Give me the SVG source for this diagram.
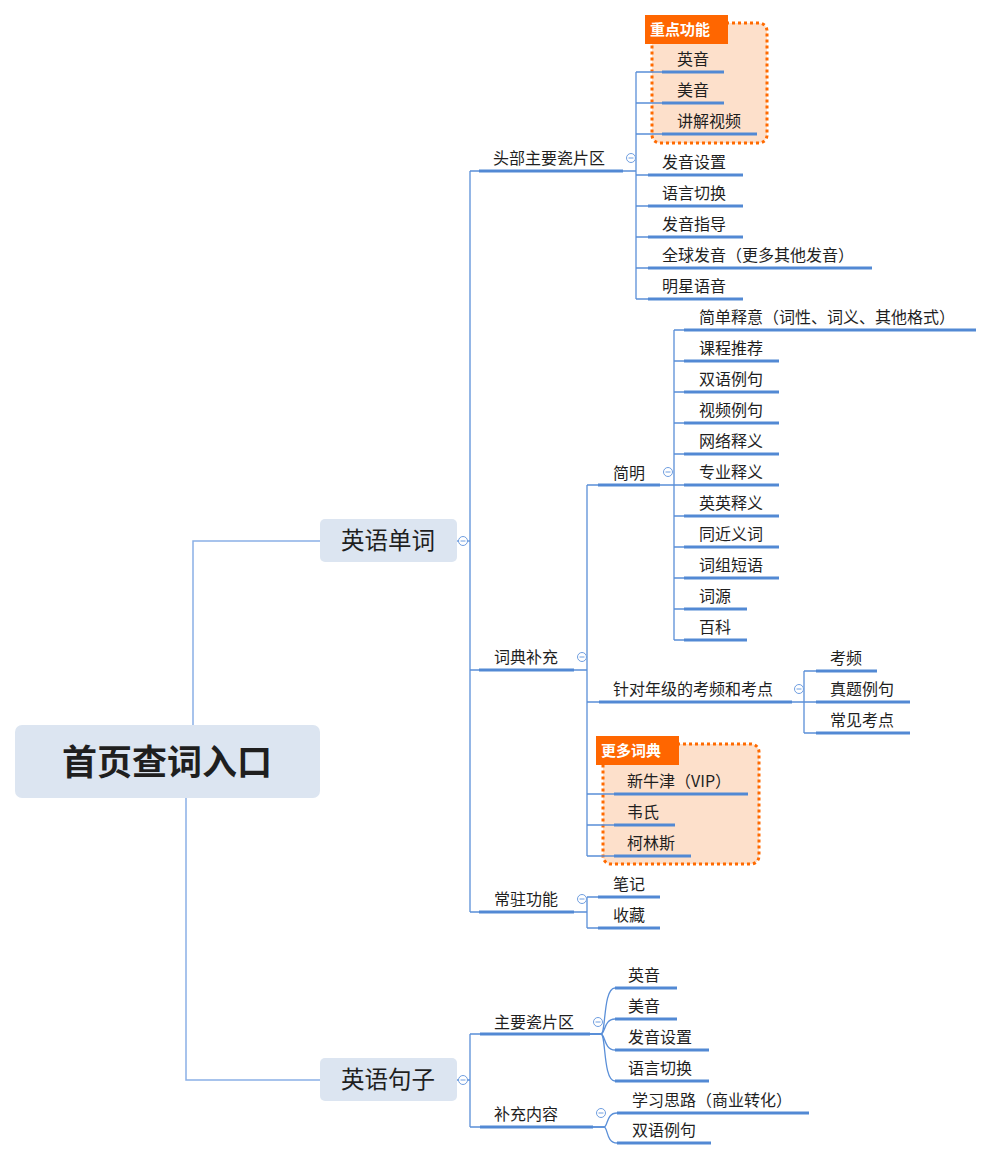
<svg xmlns="http://www.w3.org/2000/svg" width="993" height="1160" viewBox="0 0 993 1160">
<style>
text{font-family:"Noto Sans CJK SC","Noto Sans",sans-serif;fill:#1f1f1f}
.t{font-size:16px}
.l2{font-size:23.5px;text-anchor:middle}
.root{font-size:35px;font-weight:bold;text-anchor:middle}
.ul{stroke:#5289d4;stroke-width:3;fill:none}
.c{stroke:#5a8fd8;stroke-width:1.3;fill:none}
.rc{stroke:#8ab0e6;stroke-width:1.5;fill:none}
.nb{fill:#dce5f1}
.grp{fill:#fde0cb;stroke:#ff6a00;stroke-width:3;stroke-dasharray:3 3}
.lab{fill:#ff6600}
.labt{font-size:15px;fill:#ffffff;font-weight:bold}
.col circle{fill:#fff;stroke:#6f9ee0;stroke-width:1}
.col line{stroke:#6f9ee0;stroke-width:1}
</style>
<rect width="993" height="1160" fill="#ffffff"/>
<g id="box-zhongdian">
<rect class="grp" x="652" y="23" width="115" height="120" rx="8"/>
</g>
<g id="box-gengduo">
<rect class="grp" x="603" y="744" width="156" height="120" rx="8"/>
</g>
<g id="connectors">
<path class="rc" d="M193 725 V541 H320"/>
<path class="rc" d="M186 798 V1080 H320"/>
<path class="c" d="M457 541 H470"/>
<path class="c" d="M470 171 V912"/>
<path class="c" d="M470 171 H479 M470 670 H479 M470 912 H479"/>
<path class="c" d="M623 171 H636 M636 72 V299"/>
<path class="c" d="M636 72 H662 M636 103 H662 M636 134 H662 M636 175 H648 M636 206 H648 M636 237 H648 M636 268 H648 M636 299 H648"/>
<path class="c" d="M574 670 H587 M587 485 V856"/>
<path class="c" d="M587 485 H598 M587 702 H599 M587 794 H614 M587 825 H614 M587 856 H614"/>
<path class="c" d="M660 485 H674 M674 330 V640"/>
<path class="c" d="M674 330 H684 M674 361 H684 M674 392 H684 M674 423 H684 M674 454 H684 M674 485 H684 M674 516 H684 M674 547 H684 M674 578 H684 M674 609 H684 M674 640 H684"/>
<path class="c" d="M792 702 H804 M804 671 V733 M804 671 H816 M804 702 H816 M804 733 H816"/>
<path class="c" d="M574 912 H587 M587 897 V928 M587 897 H598 M587 928 H598"/>
<path class="c" d="M457 1080 H470 M470 1034 V1127 M470 1034 H480 M470 1127 H480"/>
<path class="c" d="M590 1034 H601 C606 1034 603 988 615 988"/>
<path class="c" d="M590 1034 H601 C605 1034 604 1019 615 1019"/>
<path class="c" d="M590 1034 H601 C605 1034 604 1050 615 1050"/>
<path class="c" d="M590 1034 H601 C606 1034 603 1081 615 1081"/>
<path class="c" d="M593 1127 H604 C608 1127 606 1113 617 1113"/>
<path class="c" d="M593 1127 H604 C608 1127 606 1143 617 1143"/>
</g>
<g id="root">
<rect class="nb" x="15" y="725" width="305" height="73" rx="7"/>
<text class="root" x="167" y="775">首页查词入口</text>
</g>
<g id="n-yingyudanci">
<rect class="nb" x="320" y="519" width="137" height="43" rx="5"/>
<text class="l2" x="388" y="549">英语单词</text>
<g class="col"><circle cx="463" cy="541" r="4.5"/><line x1="460.5" y1="541" x2="465.5" y2="541"/></g>
</g>
<g id="n-yingyujuzi">
<rect class="nb" x="320" y="1058" width="137" height="43" rx="5"/>
<text class="l2" x="388" y="1088">英语句子</text>
<g class="col"><circle cx="463" cy="1080" r="4.5"/><line x1="460.5" y1="1080" x2="465.5" y2="1080"/></g>
</g>
<g id="n-toubu">
<text class="t" x="493" y="164">头部主要瓷片区</text>
<line class="ul" x1="479" y1="171" x2="623" y2="171"/>
<g class="col"><circle cx="631" cy="158" r="4.5"/><line x1="628.5" y1="158" x2="633.5" y2="158"/></g>
</g>
<g id="n-cidianbuchong">
<text class="t" x="494" y="663">词典补充</text>
<line class="ul" x1="479" y1="670" x2="574" y2="670"/>
<g class="col"><circle cx="582" cy="657" r="4.5"/><line x1="579.5" y1="657" x2="584.5" y2="657"/></g>
</g>
<g id="n-changzhu">
<text class="t" x="494" y="905">常驻功能</text>
<line class="ul" x1="479" y1="912" x2="574" y2="912"/>
<g class="col"><circle cx="582" cy="899" r="4.5"/><line x1="579.5" y1="899" x2="584.5" y2="899"/></g>
</g>
<g id="n-zhuyao">
<text class="t" x="494" y="1028">主要瓷片区</text>
<line class="ul" x1="480" y1="1034" x2="590" y2="1034"/>
<g class="col"><circle cx="598" cy="1022" r="4.5"/><line x1="595.5" y1="1022" x2="600.5" y2="1022"/></g>
</g>
<g id="n-buchongneirong">
<text class="t" x="494" y="1120">补充内容</text>
<line class="ul" x1="480" y1="1127" x2="593" y2="1127"/>
<g class="col"><circle cx="601" cy="1113" r="4.5"/><line x1="598.5" y1="1113" x2="603.5" y2="1113"/></g>
</g>
<g id="lab-zhongdian">
<rect class="lab" x="645" y="15" width="83" height="29"/>
<text class="labt" x="650" y="35">重点功能</text>
</g>
<g id="lab-gengduo">
<rect class="lab" x="596" y="736" width="83" height="29"/>
<text class="labt" x="601" y="756">更多词典</text>
</g>
<g id="n-yingyin1"><text class="t" x="677" y="65">英音</text><line class="ul" x1="662" y1="72" x2="724" y2="72"/></g>
<g id="n-meiyin1"><text class="t" x="677" y="96">美音</text><line class="ul" x1="662" y1="103" x2="724" y2="103"/></g>
<g id="n-jiangjie"><text class="t" x="677" y="127">讲解视频</text><line class="ul" x1="662" y1="134" x2="757" y2="134"/></g>
<g id="n-fayinshezhi1"><text class="t" x="662" y="168">发音设置</text><line class="ul" x1="648" y1="175" x2="743" y2="175"/></g>
<g id="n-yuyanqiehuan1"><text class="t" x="662" y="199">语言切换</text><line class="ul" x1="648" y1="206" x2="743" y2="206"/></g>
<g id="n-fayinzhidao"><text class="t" x="662" y="230">发音指导</text><line class="ul" x1="648" y1="237" x2="743" y2="237"/></g>
<g id="n-quanqiu"><text class="t" x="662" y="261">全球发音（更多其他发音）</text><line class="ul" x1="648" y1="268" x2="872" y2="268"/></g>
<g id="n-mingxing"><text class="t" x="662" y="292">明星语音</text><line class="ul" x1="648" y1="299" x2="743" y2="299"/></g>
<g id="n-jianming">
<text class="t" x="613" y="479">简明</text>
<line class="ul" x1="598" y1="485" x2="660" y2="485"/>
<g class="col"><circle cx="668" cy="472" r="4.5"/><line x1="665.5" y1="472" x2="670.5" y2="472"/></g>
</g>
<g id="n-jiandan"><text class="t" x="699" y="323">简单释意（词性、词义、其他格式）</text><line class="ul" x1="684" y1="330" x2="976" y2="330"/></g>
<g id="n-kecheng"><text class="t" x="699" y="354">课程推荐</text><line class="ul" x1="684" y1="361" x2="779" y2="361"/></g>
<g id="n-shuangyu1"><text class="t" x="699" y="385">双语例句</text><line class="ul" x1="684" y1="392" x2="779" y2="392"/></g>
<g id="n-shipin"><text class="t" x="699" y="416">视频例句</text><line class="ul" x1="684" y1="423" x2="779" y2="423"/></g>
<g id="n-wangluo"><text class="t" x="699" y="447">网络释义</text><line class="ul" x1="684" y1="454" x2="779" y2="454"/></g>
<g id="n-zhuanye"><text class="t" x="699" y="478">专业释义</text><line class="ul" x1="684" y1="485" x2="779" y2="485"/></g>
<g id="n-yingying"><text class="t" x="699" y="509">英英释义</text><line class="ul" x1="684" y1="516" x2="779" y2="516"/></g>
<g id="n-tongjin"><text class="t" x="699" y="540">同近义词</text><line class="ul" x1="684" y1="547" x2="779" y2="547"/></g>
<g id="n-cizu"><text class="t" x="699" y="571">词组短语</text><line class="ul" x1="684" y1="578" x2="779" y2="578"/></g>
<g id="n-ciyuan"><text class="t" x="699" y="602">词源</text><line class="ul" x1="684" y1="609" x2="747" y2="609"/></g>
<g id="n-baike"><text class="t" x="699" y="633">百科</text><line class="ul" x1="684" y1="640" x2="747" y2="640"/></g>
<g id="n-zhendui">
<text class="t" x="613" y="695">针对年级的考频和考点</text>
<line class="ul" x1="599" y1="702" x2="792" y2="702"/>
<g class="col"><circle cx="799" cy="689" r="4.5"/><line x1="796.5" y1="689" x2="801.5" y2="689"/></g>
</g>
<g id="n-kaopin"><text class="t" x="830" y="664">考频</text><line class="ul" x1="816" y1="671" x2="877" y2="671"/></g>
<g id="n-zhenti"><text class="t" x="830" y="695">真题例句</text><line class="ul" x1="816" y1="702" x2="910" y2="702"/></g>
<g id="n-changjian"><text class="t" x="830" y="726">常见考点</text><line class="ul" x1="816" y1="733" x2="910" y2="733"/></g>
<g id="n-xinniujin"><text class="t" x="627" y="787">新牛津（VIP）</text><line class="ul" x1="614" y1="794" x2="748" y2="794"/></g>
<g id="n-weishi"><text class="t" x="627" y="818">韦氏</text><line class="ul" x1="614" y1="825" x2="675" y2="825"/></g>
<g id="n-kelinsi"><text class="t" x="627" y="849">柯林斯</text><line class="ul" x1="614" y1="856" x2="691" y2="856"/></g>
<g id="n-biji"><text class="t" x="613" y="890">笔记</text><line class="ul" x1="598" y1="897" x2="660" y2="897"/></g>
<g id="n-shoucang"><text class="t" x="613" y="921">收藏</text><line class="ul" x1="598" y1="928" x2="660" y2="928"/></g>
<g id="n-yingyin2"><text class="t" x="628" y="981">英音</text><line class="ul" x1="615" y1="988" x2="677" y2="988"/></g>
<g id="n-meiyin2"><text class="t" x="628" y="1012">美音</text><line class="ul" x1="615" y1="1019" x2="677" y2="1019"/></g>
<g id="n-fayinshezhi2"><text class="t" x="628" y="1043">发音设置</text><line class="ul" x1="615" y1="1050" x2="709" y2="1050"/></g>
<g id="n-yuyanqiehuan2"><text class="t" x="628" y="1074">语言切换</text><line class="ul" x1="615" y1="1081" x2="709" y2="1081"/></g>
<g id="n-xuexi"><text class="t" x="632" y="1106">学习思路（商业转化）</text><line class="ul" x1="617" y1="1113" x2="809" y2="1113"/></g>
<g id="n-shuangyu2"><text class="t" x="632" y="1136">双语例句</text><line class="ul" x1="617" y1="1143" x2="711" y2="1143"/></g>
</svg>
